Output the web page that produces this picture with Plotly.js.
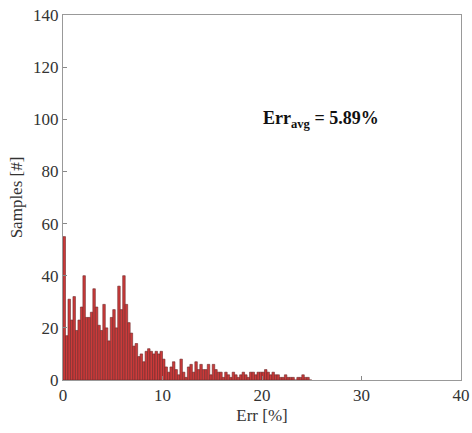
<!DOCTYPE html>
<html>
<head>
<meta charset="utf-8">
<script src="https://cdn.plot.ly/plotly-3.0.1.min.js"></script>
<style>html,body{margin:0;padding:0;background:#fff;}#chart{width:472px;height:433px;}</style>
</head>
<body>
<div id="chart"></div>
<script>
// Histogram of error [%] : bins of width 0.25 starting at 0
const binStart = 0;
const binWidth = 0.25;
const counts = [
  55,17,31,23,32,19,23,28,40,24,24,26,35,28,21,19,29,20,15,24,27,20,36,27,
  40,29,22,18,13,14,9,10,7,11,12,11,10,11,10,11,8,5,3,5,7,4,2,8,
  3,1,5,6,3,7,4,6,4,4,6,2,6,4,3,3,1,3,2,1,3,2,1,2,
  3,2,1,3,3,2,3,3,3,4,3,2,3,2,2,1,1,2,1,1,1,0,1,1,
  2,1,1,0
];
const xTicks = [0, 10, 20, 30, 40];
const yTicks = [0, 20, 40, 60, 80, 100, 120, 140];
const annotationText = '<b>Err<sub>avg</sub> = 5.89%</b>';
const annotationPos = {x: 25.9, y: 100};

const centers = counts.map((_, i) => binStart + binWidth * (i + 0.5));

const trace = {
  type: 'bar',
  x: centers,
  y: counts,
  width: binWidth,
  marker: {color: '#cc3a3a', line: {color: '#6b2a2a', width: 0.6}},
  hoverinfo: 'x+y'
};

const font = {family: '"Liberation Serif", "Times New Roman", serif', size: 17, color: '#333'};

const layout = {
  width: 472, height: 433,
  margin: {l: 63, r: 11, t: 15, b: 53},
  paper_bgcolor: '#fff', plot_bgcolor: '#fff',
  showlegend: false,
  bargap: 0,
  font: font,
  xaxis: {
    range: [0, 40], tickvals: xTicks, ticktext: xTicks.map(String),
    ticks: 'inside', ticklen: 4, tickcolor: '#888',
    showline: true, linecolor: '#999', linewidth: 1, mirror: true,
    showgrid: false, zeroline: false,
    title: {text: 'Err [%]', font: font, standoff: 4},
    tickfont: font
  },
  yaxis: {
    range: [0, 140], tickvals: yTicks, ticktext: yTicks.map(String),
    ticks: 'inside', ticklen: 4, tickcolor: '#888',
    showline: true, linecolor: '#999', linewidth: 1, mirror: true,
    showgrid: false, zeroline: false,
    title: {text: 'Samples [#]', font: font, standoff: 6},
    tickfont: font
  },
  annotations: [{
    x: annotationPos.x, y: annotationPos.y, xref: 'x', yref: 'y',
    text: annotationText, showarrow: false,
    font: {family: '"Liberation Serif", "Times New Roman", serif', size: 18, color: '#111'}
  }]
};

Plotly.newPlot('chart', [trace], layout, {displayModeBar: false, staticPlot: true});
</script>
</body>
</html>
